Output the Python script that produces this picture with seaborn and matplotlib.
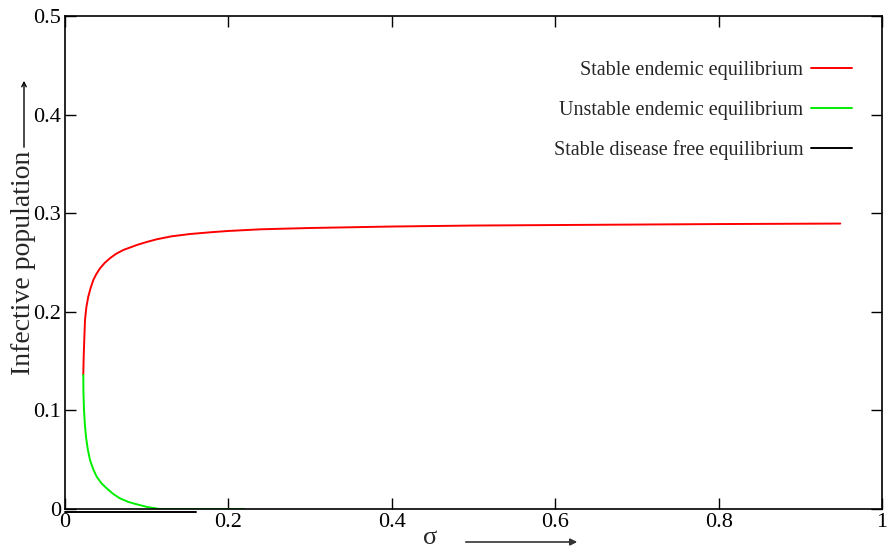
import pandas as pd
import seaborn as sns
import matplotlib.pyplot as plt
from matplotlib.patches import FancyArrowPatch

# values
stable_x = [0.0224, 0.0228, 0.0233, 0.0245, 0.0262, 0.0285, 0.0315, 0.0347, 0.0385, 0.0428,
            0.0485, 0.055, 0.0625, 0.0714, 0.0877, 0.1, 0.112, 0.13, 0.153, 0.18, 0.2,
            0.24, 0.3, 0.4, 0.5, 0.6, 0.7, 0.8, 0.949]
stable_y = [0.136, 0.152, 0.1646, 0.1917, 0.205, 0.2153, 0.2245, 0.2323, 0.2385, 0.244,
            0.2495, 0.2543, 0.2588, 0.2627, 0.2677, 0.2708, 0.2735, 0.2765, 0.2789, 0.2808,
            0.282, 0.2837, 0.285, 0.2865, 0.2875, 0.288, 0.2885, 0.289, 0.2895]

unstable_x = [0.0224, 0.0226, 0.0233, 0.0243, 0.0257, 0.0278, 0.0306, 0.0345, 0.0388, 0.0445,
              0.051, 0.059, 0.0673, 0.0775, 0.0877, 0.1, 0.116, 0.22]
unstable_y = [0.136, 0.118, 0.1004, 0.086, 0.0733, 0.061, 0.0497, 0.0405, 0.0328, 0.0262,
              0.021, 0.0153, 0.0108, 0.0072, 0.0048, 0.0022, 0.0, 0.0]

dfe_x = [0.0, 0.16]
dfe_y = [-0.0035, -0.0035]

x_ticks = [0, 0.2, 0.4, 0.6, 0.8, 1]
y_ticks = [0, 0.1, 0.2, 0.3, 0.4, 0.5]


def main():
    sns.set_style("ticks")
    plt.rcParams['font.family'] = ['Liberation Serif', 'DejaVu Serif']

    fig = plt.figure(figsize=(8.89, 5.54), dpi=100)
    ax = fig.add_axes([0.0731, 0.0812, 0.919, 0.8899])

    df_s = pd.DataFrame({'x': stable_x, 'y': stable_y})
    df_u = pd.DataFrame({'x': unstable_x, 'y': unstable_y})
    df_d = pd.DataFrame({'x': dfe_x, 'y': dfe_y})

    sns.lineplot(data=df_s, x='x', y='y', ax=ax, color='#ff0000', lw=1.4,
                 sort=False, estimator=None, label='Stable endemic equilibrium')
    sns.lineplot(data=df_u, x='x', y='y', ax=ax, color='#00ee00', lw=1.4,
                 sort=False, estimator=None, label='Unstable endemic equilibrium')
    sns.lineplot(data=df_d, x='x', y='y', ax=ax, color='black', lw=1.4,
                 sort=False, estimator=None, label='Stable disease free equilibrium')
    # the disease free line sits just under the x axis
    ax.lines[-1].set_clip_on(False)

    ax.set_xlim(0, 1)
    ax.set_ylim(0, 0.5)
    ax.set_xticks(x_ticks, labels=[f'{t:g}' for t in x_ticks])
    ax.set_yticks(y_ticks, labels=[f'{t:g}' for t in y_ticks])
    ax.tick_params(direction='in', top=True, right=True, length=8, width=1,
                   labelsize=16, pad=3, colors='black')
    for s in ax.spines.values():
        s.set_linewidth(1.2)
        s.set_color('black')

    ax.set_xlabel('σ', fontsize=19, labelpad=0)
    ax.xaxis.set_label_coords(0.447, -0.036)
    ax.set_ylabel('Infective population', fontsize=20)
    ax.yaxis.set_label_coords(-0.036, 0.5)

    # arrows next to the axis labels
    fig.patches.append(FancyArrowPatch(
        (463 / 889, 1 - 542 / 554), (580 / 889, 1 - 542 / 554),
        transform=fig.transFigure, arrowstyle='-|>', mutation_scale=10,
        color='#333333', lw=1.2))
    fig.patches.append(FancyArrowPatch(
        (24 / 889, 1 - 150 / 554), (24 / 889, 1 - 78 / 554),
        transform=fig.transFigure, arrowstyle='->', mutation_scale=8,
        color='black', lw=1.0))

    ax.legend(loc='upper right', bbox_to_anchor=(0.985, 0.945), frameon=False,
              markerfirst=False, fontsize=14.5, handlelength=2.0, handletextpad=0.4,
              labelspacing=1.0, alignment='right')

    plt.savefig('out.png', dpi=100)


main()
